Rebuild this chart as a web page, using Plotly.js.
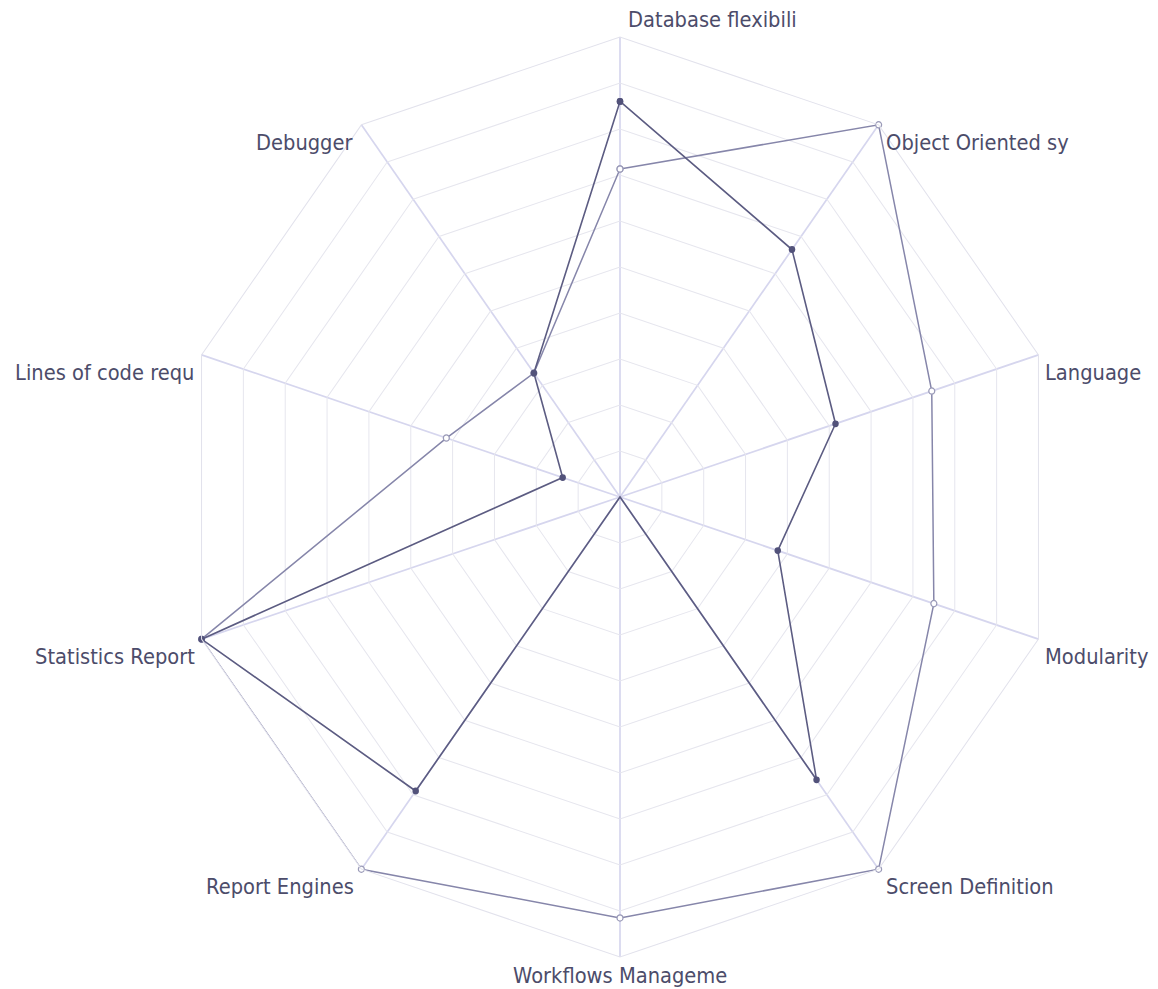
<!DOCTYPE html>
<html>
<head>
<meta charset="utf-8">
<script src="https://cdn.plot.ly/plotly-3.0.1.min.js"></script>
<style>
html,body{margin:0;padding:0;background:#fff;overflow:hidden;}
#wrap{width:1158px;height:989px;overflow:hidden;position:relative;}
#chart{width:1158px;height:989px;transform:scaleY(1.0455);transform-origin:0 497px;}
</style>
</head>
<body>
<div id="wrap"><div id="chart"></div></div>
<script>
const categories = ["Database flexibili", "Object Oriented sy", "Language", "Modularity", "Screen Definition", "Workflows Manageme", "Report Engines", "Statistics Report", "Lines of code requ", "Debugger"];
const seriesA = [8.6, 6.65, 5.15, 3.77, 7.6, 0, 7.9, 10, 1.37, 3.33];
const seriesB = [7.13, 10, 7.45, 7.5, 10, 9.15, 10, 10, 4.15, 3.33];
const radialTicks = [0, 1, 2, 3, 4, 5, 6, 7, 8, 9, 10];

const W = 1158, H = 989;
const domainX = [0.15544, 0.91537];
const domainY = [0.05258, 0.94236];

function closed(arr) { return arr.concat([arr[0]]); }

// category labels placed at the spoke ends of the polar frame
const cxPx = (domainX[0] + domainX[1]) / 2 * W;
const cyPx = H - (domainY[0] + domainY[1]) / 2 * H;
const radPx = (domainX[1] - domainX[0]) * W / 2;
const labelFont = {family: 'DejaVu Sans, Verdana, sans-serif', size: 19.5, color: '#4c4c6a'};
const annotations = categories.map((c, i) => {
  const ang = (90 - 360 / categories.length * i) * Math.PI / 180;
  const px = cxPx + radPx * Math.cos(ang);
  const py = cyPx - radPx * Math.sin(ang);
  const a = {
    text: c, showarrow: false, xref: 'paper', yref: 'paper',
    x: px / W, y: (H - py) / H, font: labelFont, borderpad: 0
  };
  const cosv = Math.cos(ang);
  if (i === 0) {
    a.xanchor = 'left'; a.yanchor = 'bottom'; a.xshift = 7; a.yshift = 4;
  } else if (Math.abs(cosv) < 1e-6) {
    a.xanchor = 'center'; a.yanchor = 'top'; a.yshift = -6;
  } else if (cosv > 0) {
    a.xanchor = 'left'; a.yanchor = 'top'; a.xshift = 6; a.yshift = -5;
  } else {
    a.xanchor = 'right'; a.yanchor = 'top'; a.xshift = -6; a.yshift = -5;
  }
  return a;
});

const traceB = {
  type: 'scatterpolar',
  mode: 'lines+markers',
  r: closed(seriesB),
  theta: closed(categories),
  line: {color: '#8686aa', width: 1.5},
  marker: {size: 6, color: '#ffffff', line: {color: '#9a9ab8', width: 1.2}},
  hoverinfo: 'skip',
  showlegend: false
};
const traceA = {
  type: 'scatterpolar',
  mode: 'lines+markers',
  r: closed(seriesA),
  theta: closed(categories),
  line: {color: '#5c5c82', width: 1.6},
  marker: {size: 6.5, color: '#52527a'},
  hoverinfo: 'skip',
  showlegend: false
};

const layout = {
  width: W,
  height: H,
  margin: {l: 0, r: 0, t: 0, b: 0},
  paper_bgcolor: '#ffffff',
  plot_bgcolor: '#ffffff',
  showlegend: false,
  font: labelFont,
  annotations: annotations,
  polar: {
    domain: {x: domainX, y: domainY},
    bgcolor: '#ffffff',
    gridshape: 'linear',
    radialaxis: {
      range: [0, 10],
      tickvals: radialTicks,
      showticklabels: false,
      ticks: '',
      showline: false,
      gridcolor: '#e6e6ee',
      gridwidth: 1
    },
    angularaxis: {
      type: 'category',
      categoryarray: categories,
      rotation: 90,
      direction: 'clockwise',
      ticks: '',
      showticklabels: false,
      gridcolor: '#d6d6ee',
      gridwidth: 1.7,
      showline: true,
      linecolor: '#e2e2ec',
      linewidth: 1
    }
  }
};

Plotly.newPlot('chart', [traceB, traceA], layout, {displayModeBar: false, staticPlot: true});
</script>
</body>
</html>
